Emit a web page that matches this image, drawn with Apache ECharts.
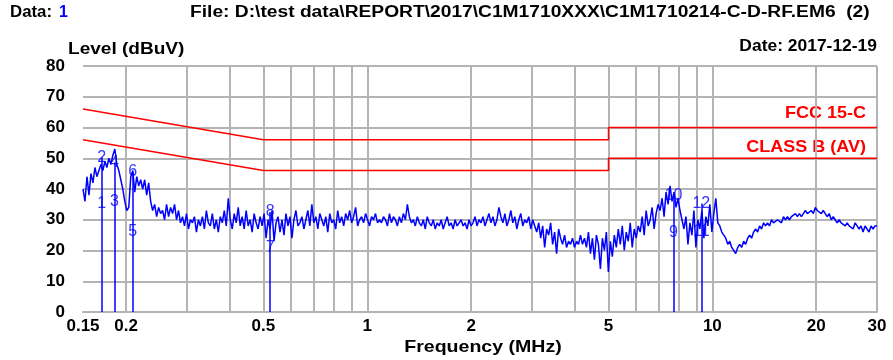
<!DOCTYPE html>
<html>
<head>
<meta charset="utf-8">
<script src="https://cdn.jsdelivr.net/npm/echarts@6/dist/echarts.min.js"></script>
<style>
html, body { margin: 0; padding: 0; background: #fff; }
#chart { width: 893px; height: 360px; }
</style>
</head>
<body>
<div id="chart"></div>
<script>
// Receiver sweep: log-spaced points from start to stop frequency (MHz)
const sweepStartMHz = 0.15;
const sweepStopMHz = 30;

// Measured level at each sweep point (dBuV)
const traceLevels = [
  40,36,44,38,45,42,47,44,46,48,
  46,49,47,50,48,51,53,48,46,43,
  40,36,33,34,44,46,39,44,41,43,
  40,43,38,42,36,33,35,31,34,32,
  33,30,35,31,34,32,35,30,33,29,
  31,28,32,27,30,29,31,26,30,28,
  31,27,33,29,28,32,27,30,26,31,
  29,33,28,37,30,27,32,29,34,28,
  31,27,33,28,30,26,32,29,27,31,
  28,32,24,30,27,33,23,29,31,26,
  30,25,32,28,31,24,30,33,28,29,
  31,27,30,33,28,35,29,31,27,32,
  30,28,31,26,32,29,30,27,33,29,
  31,28,32,30,33,29,31,34,28,30,
  31,29,32,30,28,31,30,32,29,30,
  29,31,30,28,32,29,31,30,28,31,
  29,32,30,35,31,29,30,28,31,29,
  28,30,27,31,29,28,30,27,29,28,
  30,27,29,31,28,29,27,30,28,29,
  30,28,29,27,30,28,29,31,28,30,
  29,31,28,30,32,29,31,28,30,34,
  31,29,32,28,30,33,29,31,27,30,
  32,28,30,29,31,27,30,28,26,29,
  24,28,21,27,25,29,22,26,19,27,
  24,22,25,21,23,22,24,21,23,22,
  25,22,24,21,26,19,24,17,25,22,
  14,24,20,26,13,23,18,25,21,27,
  22,28,20,26,23,29,21,27,24,28,
  26,31,25,33,28,30,34,27,32,35,
  33,37,31,39,35,41,36,39,34,37,
  33,30,27,31,22,29,25,33,21,30,
  27,33,24,31,28,35,26,32,37,29,
  28,26,25,24,22,23,21,20,19,21,
  22,21,23,22,24,25,24,26,27,26,
  28,27,29,28,29,28,30,29,29,30,
  30,29,31,30,31,30,31,31,32,31,
  32,31,32,33,32,32,33,32,34,33,
  33,32,33,32,31,32,30,31,30,29,
  30,29,29,28,29,28,28,27,29,28,
  27,28,26,28,27,26,28,27,28,28
];

// FCC 15-C conducted limits (quasi-peak and average)
const limitQPFreq  = [0.15, 0.5, 5, 5, 30];
const limitQPLevel = [66, 56, 56, 60, 60];
const limitAVFreq  = [0.15, 0.5, 5, 5, 30];
const limitAVLevel = [56, 46, 46, 50, 50];

// Marker readings
const markerNo    = ['1', '2', '3', '4', '5', '6', '7', '8', '9', '10', '11', '12'];
const markerFreq  = [0.170, 0.170, 0.185, 0.185, 0.209, 0.209, 0.523, 0.523, 7.71, 7.71, 9.29, 9.29];
const markerLevel = [35.4, 50.3, 35.8, 48.6, 26.0, 45.5, 21.0, 32.5, 25.7, 38.0, 26.0, 35.3];

// Axis ticks
const gridFreqs  = [0.2, 0.3, 0.4, 0.5, 0.6, 0.7, 0.8, 0.9, 1, 2, 3, 4, 5, 6, 7, 8, 9, 10, 20, 30];
const freqLabels = [0.15, 0.2, 0.5, 1, 2, 5, 10, 20, 30];
const levelMin = 0, levelMax = 80, levelStep = 10;

const FONT = "'Liberation Sans', Arial, sans-serif";
const lg = Math.log10;

const n = traceLevels.length;
const traceData = traceLevels.map((v, i) => [
  lg(sweepStartMHz) + (lg(sweepStopMHz) - lg(sweepStartMHz)) * i / (n - 1), v
]);
const qpData = limitQPFreq.map((f, i) => [lg(f), limitQPLevel[i]]);
const avData = limitAVFreq.map((f, i) => [lg(f), limitAVLevel[i]]);

// One vertical line per marker frequency, up to the higher reading of the pair
const stemTop = {};
markerFreq.forEach((f, i) => { stemTop[f] = Math.max(stemTop[f] || 0, markerLevel[i]); });
const stemLines = Object.keys(stemTop).map(f => [
  { coord: [lg(+f), 0] }, { coord: [lg(+f), stemTop[f]] }
]);
const markerData = markerNo.map((m, i) => ({ name: m, value: [lg(markerFreq[i]), markerLevel[i]] }));

// Wide bold caption text, stretched horizontally like the instrument printout
function caption(text, x, y, opts) {
  return Object.assign({
    type: 'text', x: x, y: y, scaleX: 1.18,
    style: { text: text, fill: '#000', font: 'bold 16px ' + FONT, textAlign: 'left', textVerticalAlign: 'middle' }
  }, opts || {});
}

const chart = echarts.init(document.getElementById('chart'), null, { renderer: 'canvas' });

chart.setOption({
  animation: false,
  backgroundColor: '#ffffff',
  grid: { left: 83, right: 16, top: 66, bottom: 48 },
  xAxis: {
    type: 'value',
    min: lg(sweepStartMHz),
    max: lg(sweepStopMHz),
    axisLine: { show: true, lineStyle: { color: '#b4b4b4', width: 2 } },
    axisTick: { show: false, customValues: gridFreqs.map(lg) },
    splitLine: { show: true, lineStyle: { color: '#b4b4b4', width: 2 } },
    axisLabel: {
      customValues: freqLabels.map(lg),
      formatter: v => String(parseFloat(Math.pow(10, v).toPrecision(2))),
      color: '#000', fontFamily: FONT, fontWeight: 'bold', fontSize: 17, margin: 6
    }
  },
  yAxis: {
    type: 'value',
    min: levelMin, max: levelMax, interval: levelStep,
    axisLine: { show: true, lineStyle: { color: '#b4b4b4', width: 2 } },
    axisTick: { show: false },
    splitLine: { show: true, lineStyle: { color: '#b4b4b4', width: 2 } },
    axisLabel: { color: '#000', fontFamily: FONT, fontWeight: 'bold', fontSize: 17, margin: 18 }
  },
  graphic: [
    caption('Data: ', 10, 13, { scaleX: 1.05 }),
    { type: 'text', x: 59, y: 13, style: { text: '1', fill: '#0000ff', font: 'bold 16px ' + FONT, textVerticalAlign: 'middle' } },
    caption('File: D:\\test data\\REPORT\\2017\\C1M1710XXX\\C1M1710214-C-D-RF.EM6  (2)', 190, 13, { scaleX: 1.2 }),
    caption('Date: 2017-12-19', 877, 47, { scaleX: 1.09, style: { text: 'Date: 2017-12-19', fill: '#000', font: 'bold 16px ' + FONT, textAlign: 'right', textVerticalAlign: 'middle' } }),
    caption('Level (dBuV)', 68, 50, { scaleX: 1.19 }),
    caption('Frequency (MHz)', 483, 347, { scaleX: 1.15, style: { text: 'Frequency (MHz)', fill: '#000', font: 'bold 17px ' + FONT, textAlign: 'center', textVerticalAlign: 'middle' } }),
    { type: 'text', x: 866, y: 113, scaleX: 1.06, style: { text: 'FCC 15-C', fill: '#ff0000', font: 'bold 17px ' + FONT, textAlign: 'right', textVerticalAlign: 'middle' } },
    { type: 'text', x: 866, y: 147, scaleX: 1.06, style: { text: 'CLASS B (AV)', fill: '#ff0000', font: 'bold 17px ' + FONT, textAlign: 'right', textVerticalAlign: 'middle' } }
  ],
  series: [
    {
      name: 'Limit QP', type: 'line', data: qpData, showSymbol: false,
      lineStyle: { color: '#ff0000', width: 1.5 }, z: 3
    },
    {
      name: 'Limit AV', type: 'line', data: avData, showSymbol: false,
      lineStyle: { color: '#ff0000', width: 1.5 }, z: 3
    },
    {
      name: 'Markers', type: 'scatter', data: markerData, symbolSize: 0, z: 2,
      label: {
        show: true, position: 'inside', formatter: p => p.name,
        color: '#0000ff', fontFamily: FONT, fontSize: 16
      }
    },
    {
      name: 'Level', type: 'line', data: traceData, showSymbol: false,
      lineStyle: { color: '#0000ff', width: 1.5 }, z: 4,
      markLine: {
        silent: true, symbol: 'none', animation: false,
        label: { show: false },
        lineStyle: { color: '#0000ff', width: 1.5, type: 'solid' },
        data: stemLines
      }
    }
  ]
});
</script>
</body>
</html>
